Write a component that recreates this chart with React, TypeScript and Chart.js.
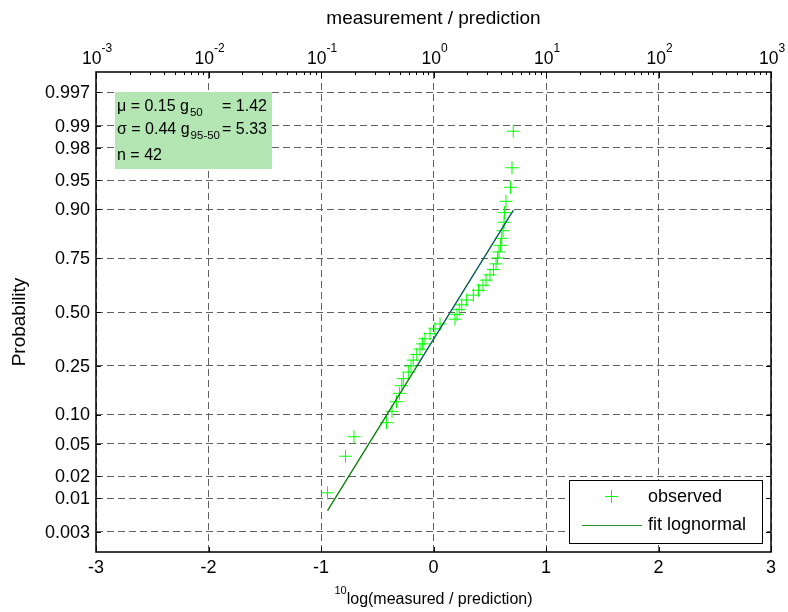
import React, { useEffect, useRef } from 'react';
import { Chart, registerables } from 'chart.js';

Chart.register(...registerables);

// ---------- data ----------
// 10log(measured / prediction) of the 42 observations, sorted
const observedLog10Ratio = [
  -0.942, -0.782, -0.707, -0.418, -0.369, -0.329, -0.302, -0.283, -0.268, -0.224,
  -0.200, -0.180, -0.149, -0.120, -0.098, -0.076, -0.031, 0.013, 0.058, 0.191,
  0.209, 0.229, 0.251, 0.295, 0.354, 0.400, 0.440, 0.467, 0.502, 0.533,
  0.556, 0.569, 0.582, 0.596, 0.606, 0.618, 0.627, 0.631, 0.644, 0.684,
  0.698, 0.709,
];
// plotting-position probabilities of the observations
const observedProb = [
  0.0119, 0.0357, 0.0595, 0.0833, 0.1071, 0.1310, 0.1548, 0.1786, 0.2024, 0.2262,
  0.2500, 0.2738, 0.2976, 0.3214, 0.3452, 0.3690, 0.3929, 0.4167, 0.4405, 0.4643,
  0.4881, 0.5119, 0.5357, 0.5595, 0.5833, 0.6071, 0.6310, 0.6548, 0.6786, 0.7024,
  0.7262, 0.7500, 0.7738, 0.7976, 0.8214, 0.8452, 0.8690, 0.8929, 0.9167, 0.9405,
  0.9643, 0.9881,
];
// lognormal fit
const fitMu = 0.15;
const fitSigma = 0.44;
const fitLineX = [-0.942, 0.709];
const quartileLineX = [-0.147, 0.709];

// axes
const xTickValues = [-3, -2, -1, 0, 1, 2, 3];
const xTickLabels = ['-3', '-2', '-1', '0', '1', '2', '3'];
const topExponents = ['-3', '-2', '-1', '0', '1', '2', '3'];
const yTickProbs = [0.003, 0.01, 0.02, 0.05, 0.10, 0.25, 0.50, 0.75, 0.90, 0.95, 0.98, 0.99, 0.997];
const yTickLabels = ['0.003', '0.01', '0.02', '0.05', '0.10', '0.25', '0.50', '0.75', '0.90', '0.95', '0.98', '0.99', '0.997'];

// text
const topTitle = 'measurement / prediction';
const bottomTitleSup = '10';
const bottomTitle = 'log(measured / prediction)';
const yTitle = 'Probability';
const statLines = [
  { left: 'μ = 0.15 g', sub: '50', right: '= 1.42' },
  { left: 'σ = 0.44 g', sub: '95-50', right: '= 5.33' },
  { left: 'n = 42', sub: '', right: '' },
];
const legendLabels = ['observed', 'fit lognormal'];

// ---------- normal quantile (probability-axis transform) ----------
function norminv(p: number): number {
  const a = [-3.969683028665376e1, 2.209460984245205e2, -2.759285104469687e2, 1.38357751867269e2, -3.066479806614716e1, 2.506628277459239];
  const b = [-5.447609879822406e1, 1.615858368580409e2, -1.556989798598866e2, 6.680131188771972e1, -1.328068155288572e1];
  const c = [-7.784894002430293e-3, -3.223964580411365e-1, -2.400758277161838, -2.549671010236356, 4.374664141464968, 2.938163982698783];
  const d = [7.784695709041462e-3, 3.224671290700398e-1, 2.445134137142996, 3.754408661907416];
  const pl = 0.02425;
  if (p < pl) {
    const q = Math.sqrt(-2 * Math.log(p));
    return (((((c[0] * q + c[1]) * q + c[2]) * q + c[3]) * q + c[4]) * q + c[5]) / ((((d[0] * q + d[1]) * q + d[2]) * q + d[3]) * q + 1);
  }
  if (p <= 1 - pl) {
    const q = p - 0.5;
    const r = q * q;
    return ((((((a[0] * r + a[1]) * r + a[2]) * r + a[3]) * r + a[4]) * r + a[5]) * q) / (((((b[0] * r + b[1]) * r + b[2]) * r + b[3]) * r + b[4]) * r + 1);
  }
  const q = Math.sqrt(-2 * Math.log(1 - p));
  return -(((((c[0] * q + c[1]) * q + c[2]) * q + c[3]) * q + c[4]) * q + c[5]) / ((((d[0] * q + d[1]) * q + d[2]) * q + d[3]) * q + 1);
}

const FONT = '"Liberation Sans", Arial, Helvetica, sans-serif';
const font = (s: number) => `${s}px ${FONT}`;

const overlayPlugin = {
  id: 'overlay',
  afterDraw(chart: any) {
    const { ctx, chartArea: a, scales } = chart;
    const xs = scales.x;
    const ys = scales.y;
    ctx.save();
    const line = (x1: number, y1: number, x2: number, y2: number) => {
      ctx.beginPath();
      ctx.moveTo(x1, y1);
      ctx.lineTo(x2, y2);
      ctx.stroke();
    };

    // inward ticks
    ctx.strokeStyle = '#000';
    ctx.lineWidth = 1;
    ctx.setLineDash([]);
    yTickProbs.forEach((p) => {
      const py = Math.round(ys.getPixelForValue(norminv(p))) + 0.5;
      line(a.left, py, a.left + 5, py);
      line(a.right - 5, py, a.right, py);
    });
    xTickValues.forEach((v) => {
      const px = Math.round(xs.getPixelForValue(v)) + 0.5;
      line(px, a.bottom, px, a.bottom - 5);
      line(px, a.top, px, a.top + 6);
    });
    for (let dec = -3; dec < 3; dec++) {
      for (let k = 2; k <= 9; k++) {
        const px = Math.round(xs.getPixelForValue(dec + Math.log10(k))) + 0.5;
        line(px, a.top, px, a.top + 3);
      }
    }

    // axes box
    ctx.lineWidth = 1.5;
    ctx.strokeRect(a.left, a.top, a.right - a.left, a.bottom - a.top);

    ctx.fillStyle = '#000';
    // y tick labels
    ctx.font = font(18);
    ctx.textAlign = 'right';
    ctx.textBaseline = 'middle';
    yTickProbs.forEach((p, i) => {
      ctx.fillText(yTickLabels[i], a.left - 6, ys.getPixelForValue(norminv(p)) + 1);
    });
    // bottom tick labels
    ctx.textAlign = 'center';
    xTickValues.forEach((v, i) => {
      ctx.fillText(xTickLabels[i], xs.getPixelForValue(v), a.bottom + 16);
    });
    // top tick labels 10^n
    ctx.textBaseline = 'alphabetic';
    ctx.textAlign = 'left';
    xTickValues.forEach((v, i) => {
      ctx.font = font(17.5);
      const wb = ctx.measureText('10').width;
      ctx.font = font(12);
      const we = ctx.measureText(topExponents[i]).width;
      const x0 = xs.getPixelForValue(v) - (wb + we) / 2 + 1;
      ctx.font = font(17.5);
      ctx.fillText('10', x0, a.top - 8);
      ctx.font = font(12);
      ctx.fillText(topExponents[i], x0 + wb, a.top - 20);
    });
    // top title
    ctx.font = font(19);
    ctx.textAlign = 'center';
    ctx.textBaseline = 'middle';
    ctx.fillText(topTitle, (a.left + a.right) / 2, 19);
    // bottom title with superscript
    ctx.textAlign = 'left';
    ctx.textBaseline = 'alphabetic';
    ctx.font = font(11);
    const ws = ctx.measureText(bottomTitleSup).width;
    ctx.font = font(16);
    const wt = ctx.measureText(bottomTitle).width;
    const bx = (a.left + a.right) / 2 - (ws + wt) / 2;
    ctx.font = font(11);
    ctx.fillText(bottomTitleSup, bx, 594);
    ctx.font = font(16);
    ctx.fillText(bottomTitle, bx + ws, 604);
    // y title
    ctx.save();
    ctx.translate(20, 322);
    ctx.rotate(-Math.PI / 2);
    ctx.font = font(19);
    ctx.textAlign = 'center';
    ctx.textBaseline = 'middle';
    ctx.fillText(yTitle, 0, 0);
    ctx.restore();

    // statistics box
    const bxl = a.left + 19;
    const byt = 92;
    ctx.fillStyle = 'rgb(179,230,179)';
    ctx.fillRect(bxl, byt, 157, 77);
    ctx.fillStyle = '#000';
    const baselines = [111, 134, 160];
    statLines.forEach((s, i) => {
      const by = baselines[i];
      ctx.font = font(16);
      ctx.fillText(s.left, bxl + 2, by);
      let xx = bxl + 2 + ctx.measureText(s.left).width;
      if (s.sub) {
        ctx.font = font(11.5);
        ctx.fillText(s.sub, xx + 1, by + 5);
        xx += ctx.measureText(s.sub).width + 1;
      }
      if (s.right) {
        ctx.font = font(16);
        const rx = i === 0 ? bxl + 107 : xx + 2;
        ctx.fillText(s.right, rx, by);
      }
    });

    // legend
    const lx = 569.5;
    const ly = 480.5;
    ctx.fillStyle = '#fff';
    ctx.fillRect(lx, ly, 193, 63);
    ctx.strokeStyle = '#000';
    ctx.lineWidth = 1;
    ctx.strokeRect(lx, ly, 193, 63);
    ctx.strokeStyle = '#00ff00';
    line(611.5, 490, 611.5, 503);
    line(605, 496.5, 618, 496.5);
    ctx.strokeStyle = '#2f8f2f';
    line(582, 525.5, 642, 525.5);
    ctx.fillStyle = '#000';
    ctx.font = font(18);
    ctx.textBaseline = 'middle';
    ctx.fillText(legendLabels[0], 648, 497);
    ctx.fillText(legendLabels[1], 648, 525);

    ctx.restore();
  },
};

export default function App() {
  const canvasRef = useRef<HTMLCanvasElement | null>(null);

  useEffect(() => {
    const canvas = canvasRef.current;
    if (!canvas) return;
    const obsPts = observedLog10Ratio.map((v, i) => ({ x: v, y: norminv(observedProb[i]) }));
    const fitPts = fitLineX.map((v) => ({ x: v, y: (v - fitMu) / fitSigma }));
    const qPts = quartileLineX.map((v) => ({ x: v, y: (v - fitMu) / fitSigma }));

    const gridCommon = { color: '#606060', lineWidth: 1, drawTicks: false };
    const chart = new Chart(canvas, {
      type: 'scatter',
      data: {
        datasets: [
          {
            type: 'line',
            label: 'quartile',
            data: qPts,
            borderColor: 'rgba(20,60,200,0.75)',
            borderWidth: 1,
            pointRadius: 0,
            fill: false,
          } as any,
          {
            type: 'line',
            label: legendLabels[1],
            data: fitPts,
            borderColor: '#008000',
            borderWidth: 1.3,
            pointRadius: 0,
            fill: false,
          } as any,
          {
            label: legendLabels[0],
            data: obsPts,
            pointStyle: 'cross',
            pointRadius: 6.5,
            borderColor: '#00ff00',
            backgroundColor: '#00ff00',
            borderWidth: 1,
          },
        ],
      },
      options: {
        animation: false,
        responsive: false,
        devicePixelRatio: 1,
        layout: { padding: { top: 72, right: 17, left: 0, bottom: 0 } },
        plugins: { legend: { display: false }, tooltip: { enabled: false } },
        scales: {
          x: {
            type: 'linear',
            min: -3,
            max: 3,
            afterBuildTicks: (s: any) => {
              s.ticks = xTickValues.map((v) => ({ value: v }));
            },
            afterFit: (s: any) => {
              s.height = 60;
            },
            ticks: { display: false },
            grid: gridCommon,
            border: { display: false, dash: [7, 4] },
          },
          y: {
            type: 'linear',
            min: -3,
            max: 3,
            afterBuildTicks: (s: any) => {
              s.ticks = yTickProbs.map((p) => ({ value: norminv(p) }));
            },
            afterFit: (s: any) => {
              s.width = 96;
            },
            ticks: { display: false },
            grid: gridCommon,
            border: { display: false, dash: [7, 4] },
          },
        },
      } as any,
      plugins: [overlayPlugin],
    });
    return () => chart.destroy();
  }, []);

  return (
    <div style={{ position: 'fixed', left: 0, top: 0, width: 788, height: 612, background: '#fff' }}>
      <canvas ref={canvasRef} width={788} height={612} style={{ display: 'block' }} />
    </div>
  );
}
